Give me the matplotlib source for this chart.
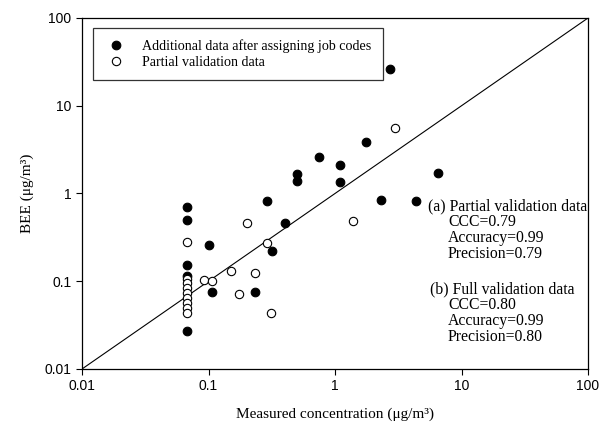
import matplotlib
matplotlib.use('Agg')
import matplotlib.pyplot as plt
from matplotlib.ticker import FixedLocator, FixedFormatter, NullLocator

# additional data after assigning job codes (filled)
filled_x = [2.7, 1.75, 0.75, 1.1, 0.5, 0.5, 1.1, 6.5, 2.3, 4.4, 0.29,
            0.068, 0.068, 0.068, 0.068, 0.068, 0.1, 0.107, 0.235, 0.32, 0.4]
filled_y = [26, 3.9, 2.6, 2.1, 1.65, 1.38, 1.35, 1.7, 0.85, 0.83, 0.82,
            0.70, 0.50, 0.155, 0.115, 0.027, 0.26, 0.076, 0.075, 0.22, 0.46]

# partial validation data (open)
open_x = [3.0, 1.4, 0.2, 0.29, 0.068, 0.15, 0.235, 0.092, 0.107, 0.175, 0.31,
          0.068, 0.068, 0.068, 0.068, 0.068, 0.068, 0.068, 0.068]
open_y = [5.6, 0.49, 0.46, 0.27, 0.28, 0.13, 0.125, 0.102, 0.1, 0.071, 0.043,
          0.105, 0.095, 0.084, 0.074, 0.064, 0.056, 0.05, 0.044]

ticks = [0.01, 0.1, 1, 10, 100]
tick_labels = ['0.01', '0.1', '1', '10', '100']

stats_a = ['(a) Partial validation data', 'CCC=0.79', 'Accuracy=0.99', 'Precision=0.79']
stats_b = ['(b) Full validation data', 'CCC=0.80', 'Accuracy=0.99', 'Precision=0.80']

SERIF = 'Liberation Serif'
SANS = 'Liberation Sans'

fig = plt.figure(figsize=(6.01, 4.29), dpi=100)
ax = fig.add_axes([82/601, 1 - 369/429, 506/601, 351/429])
ax.set_xscale('log')
ax.set_yscale('log')
ax.set_xlim(0.01, 100)
ax.set_ylim(0.01, 100)

ax.plot([0.01, 100], [0.01, 100], color='black', lw=0.8, zorder=1)

ax.plot(filled_x, filled_y, 'o', ms=6.2, mfc='black', mec='black', mew=0.8,
        ls='none', label='Additional data after assigning job codes', zorder=3)
ax.plot(open_x, open_y, 'o', ms=6, mfc='white', mec='black', mew=0.8,
        ls='none', label='Partial validation data', zorder=3)

for a in (ax.xaxis, ax.yaxis):
    a.set_major_locator(FixedLocator(ticks))
    a.set_major_formatter(FixedFormatter(tick_labels))
    a.set_minor_locator(NullLocator())
ax.tick_params(direction='out', length=4, width=0.8, color='black', labelsize=10)
for lab in ax.get_xticklabels() + ax.get_yticklabels():
    lab.set_fontfamily(SANS)
for s in ax.spines.values():
    s.set_linewidth(0.9)
    s.set_color('black')

ax.set_xlabel('Measured concentration (μg/m³)', fontfamily=SERIF, fontsize=11, labelpad=10)
ax.set_ylabel('BEE (μg/m³)', fontfamily=SERIF, fontsize=11, labelpad=8)

leg = ax.legend(loc='upper left', bbox_to_anchor=(0.022, 0.971), borderaxespad=0,
                prop={'family': SERIF, 'size': 10.1}, fancybox=False, frameon=True,
                handletextpad=1.1, borderpad=0.8, labelspacing=0.2, handlelength=1.6)
leg.get_frame().set_edgecolor('black')
leg.get_frame().set_linewidth(0.9)

def to_axes(px, py):
    return (px - 82) / 506, (369 - py) / 351

for i, line in enumerate(stats_a):
    x = 428 if i == 0 else 448
    tx, ty = to_axes(x, 206 + 16 * i)
    ax.text(tx, ty, line, transform=ax.transAxes, fontfamily=SERIF, fontsize=11.3,
            va='center', ha='left')
for i, line in enumerate(stats_b):
    x = 430 if i == 0 else 448
    tx, ty = to_axes(x, 289 + 16 * i)
    ax.text(tx, ty, line, transform=ax.transAxes, fontfamily=SERIF, fontsize=11.3,
            va='center', ha='left')

fig.savefig('out.png', dpi=100)
